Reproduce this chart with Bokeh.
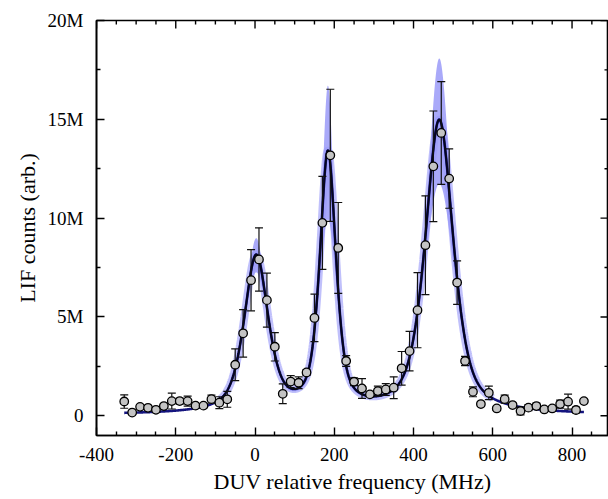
import numpy as np
from bokeh.plotting import figure
from bokeh.models import FixedTicker, Range1d, Title
from bokeh.embed import file_html
from bokeh.resources import INLINE

# ---- measured data (frequency in MHz, LIF counts in millions) ----
freq_mhz = [-330, -310, -290, -270, -250, -230, -210, -190, -170, -150,
            -130, -110, -90, -70, -50, -30, -10, 10, 30, 50,
            70, 90, 110, 130, 150, 170, 190, 210, 230, 250,
            270, 290, 310, 330, 350, 370, 390, 410, 430, 450,
            470, 490, 510, 530, 550, 570, 590, 610, 630, 650,
            670, 690, 710, 730, 750, 770, 790, 810, 830]
lif_counts_m = [0.72, 0.16, 0.45, 0.40, 0.30, 0.49, 0.74, 0.74, 0.74, 0.51,
                0.51, 0.84, 0.66, 0.83, 2.58, 4.17, 6.86, 7.91, 5.85, 3.49,
                1.11, 1.73, 1.67, 2.19, 4.95, 9.76, 13.18, 8.49, 2.77, 1.72,
                1.38, 1.08, 1.25, 1.33, 1.42, 2.40, 3.27, 5.34, 8.63, 12.62,
                14.31, 12.00, 6.74, 2.77, 1.21, 0.59, 1.16, 0.37, 0.84, 0.54,
                0.24, 0.41, 0.49, 0.32, 0.37, 0.59, 0.71, 0.29, 0.74]
lif_err_m = [0.34, 0.08, 0.10, 0.10, 0.10, 0.10, 0.40, 0.15, 0.25, 0.10,
             0.10, 0.20, 0.30, 0.40, 0.80, 1.20, 1.55, 1.60, 1.37, 0.72,
             0.50, 0.30, 0.30, 0.15, 1.20, 2.35, 3.34, 2.30, 0.27, 0.20,
             0.50, 0.10, 0.25, 0.30, 0.55, 0.85, 1.00, 1.90, 2.50, 2.80,
             2.60, 1.50, 1.10, 0.23, 0.25, 0.10, 0.34, 0.10, 0.20, 0.10,
             0.20, 0.15, 0.15, 0.10, 0.10, 0.20, 0.38, 0.15, 0.10]

# ---- fit model parameters (three pseudo-Voigt peaks + baseline) ----
peak_center = [3, 184, 465]
fit_amp = [7.9, 13.0, 14.85]
fit_hwhm = [36, 24, 42]
band_amp_hi = [8.75, 16.3, 17.95]
band_hwhm_hi = [33, 20, 37]
band_amp_lo = [7.0, 9.5, 11.6]
band_hwhm_lo = [39, 28, 47]
lorentz_fraction = 0.6
fit_baseline = 0.05
band_span = [-90, 600]

x_ticks = [-400, -200, 0, 200, 400, 600, 800]
x_tick_labels = ["-400", "-200", "0", "200", "400", "600", "800"]
x_minor = [-350, -300, -250, -150, -100, -50, 50, 100, 150, 250, 300, 350,
           450, 500, 550, 650, 700, 750, 850]
y_ticks = [0, 5, 10, 15, 20]
y_minor = [2.5, 7.5, 12.5, 17.5]
y_tick_labels = ["0", "5M", "10M", "15M", "20M"]
x_title = "DUV relative frequency (MHz)"
y_title = "LIF counts (arb.)"
x_lim = [-400, 892]
y_lim = [-1, 20]


def profile(x, centers, amps, hwhm):
    y = np.full_like(x, fit_baseline, dtype=float)
    for c, a, g in zip(centers, amps, hwhm):
        d2 = (x - c) ** 2
        lor = g * g / (d2 + g * g)
        gau = np.exp(-np.log(2) * d2 / (g * g))
        y = y + a * (lorentz_fraction * lor + (1 - lorentz_fraction) * gau)
    return y


FONT = "'Liberation Serif'"

p = figure(width=608, height=499, x_range=Range1d(*x_lim), y_range=Range1d(*y_lim),
           output_backend="svg", toolbar_location=None,
           min_border_left=96, min_border_top=20, min_border_right=0, min_border_bottom=64)
p.grid.visible = False
p.outline_line_color = "black"
p.outline_line_width = 1.6
p.background_fill_color = "white"
p.border_fill_color = "white"

# curves
x_full = np.linspace(min(freq_mhz), max(freq_mhz), 1600)
y_full = profile(x_full, peak_center, fit_amp, fit_hwhm)
x_band = np.linspace(band_span[0], band_span[1], 1400)
y_fit = profile(x_band, peak_center, fit_amp, fit_hwhm)
y_hi = profile(x_band, peak_center, band_amp_hi, band_hwhm_hi)
y_lo = profile(x_band, peak_center, band_amp_lo, band_hwhm_lo)
upper = np.maximum.reduce([y_hi, y_lo, y_fit])
lower = np.minimum.reduce([y_hi, y_lo, y_fit])

p.line(x_band, y_fit, line_width=8, line_color="#b9b9fb", line_alpha=0.9)
p.varea(x=x_band, y1=lower, y2=upper, fill_color="#9a9af8", fill_alpha=0.85)
p.line(x_full, y_full, line_width=2.6, line_color="#14147e")
p.line(x_band, y_fit, line_width=2.0, line_color="#06061e")

# error bars
err_lo = [v - e for v, e in zip(lif_counts_m, lif_err_m)]
err_hi = [v + e for v, e in zip(lif_counts_m, lif_err_m)]
p.segment(x0=freq_mhz, y0=err_lo, x1=freq_mhz, y1=err_hi, line_color="#111111", line_width=1.2)
p.scatter(freq_mhz, err_lo, marker="dash", size=8, line_color="#111111", line_width=1.2)
p.scatter(freq_mhz, err_hi, marker="dash", size=8, line_color="#111111", line_width=1.2)

# points
p.scatter(freq_mhz, lif_counts_m, marker="circle", size=8.5, fill_color="#c4c4c4",
          line_color="black", line_width=1.3)

# mirrored inward ticks on the top and right frame edges (half of each dash is clipped)
p.scatter(x_ticks, [y_lim[1]] * len(x_ticks), marker="dash", angle=np.pi / 2, size=16,
          line_color="black", line_width=1.4)
p.scatter(x_minor, [y_lim[1]] * len(x_minor), marker="dash", angle=np.pi / 2, size=8,
          line_color="black", line_width=1.4)
p.scatter([x_lim[1]] * len(y_ticks), y_ticks, marker="dash", size=16,
          line_color="black", line_width=1.4)
p.scatter([x_lim[1]] * len(y_minor), y_minor, marker="dash", size=8,
          line_color="black", line_width=1.4)


def style_axis(ax, ticks, minor, labels):
    ax.ticker = FixedTicker(ticks=ticks, minor_ticks=minor)
    ax.major_label_overrides = {t: s for t, s in zip(ticks, labels)}
    ax.axis_line_width = 1.6
    ax.axis_line_color = "black"
    ax.major_tick_in = 8
    ax.major_tick_out = 0
    ax.minor_tick_in = 4
    ax.minor_tick_out = 0
    ax.major_tick_line_width = 1.4
    ax.minor_tick_line_width = 1.4
    ax.major_tick_line_color = "black"
    ax.minor_tick_line_color = "black"
    ax.major_label_text_font = FONT
    ax.major_label_text_font_style = "normal"
    ax.major_label_text_font_size = "19px"
    ax.major_label_text_color = "black"


xa = p.xaxis[0]
style_axis(xa, x_ticks, x_minor, x_tick_labels)
xa.major_label_standoff = 12

ya = p.yaxis[0]
style_axis(ya, y_ticks, y_minor, y_tick_labels)
ya.major_label_standoff = 13

# axis titles as side-panel titles (upright serif)
p.add_layout(Title(text=x_title, align="center", text_font="Liberation Serif",
                   text_font_style="normal", text_font_size="22px", text_color="black",
                   standoff=6, offset=0), "below")
p.add_layout(Title(text=y_title, align="center", text_font="Liberation Serif",
                   text_font_style="normal", text_font_size="22px", text_color="black",
                   standoff=10, offset=0), "left")

open("out.html", "w").write(file_html(p, INLINE))
